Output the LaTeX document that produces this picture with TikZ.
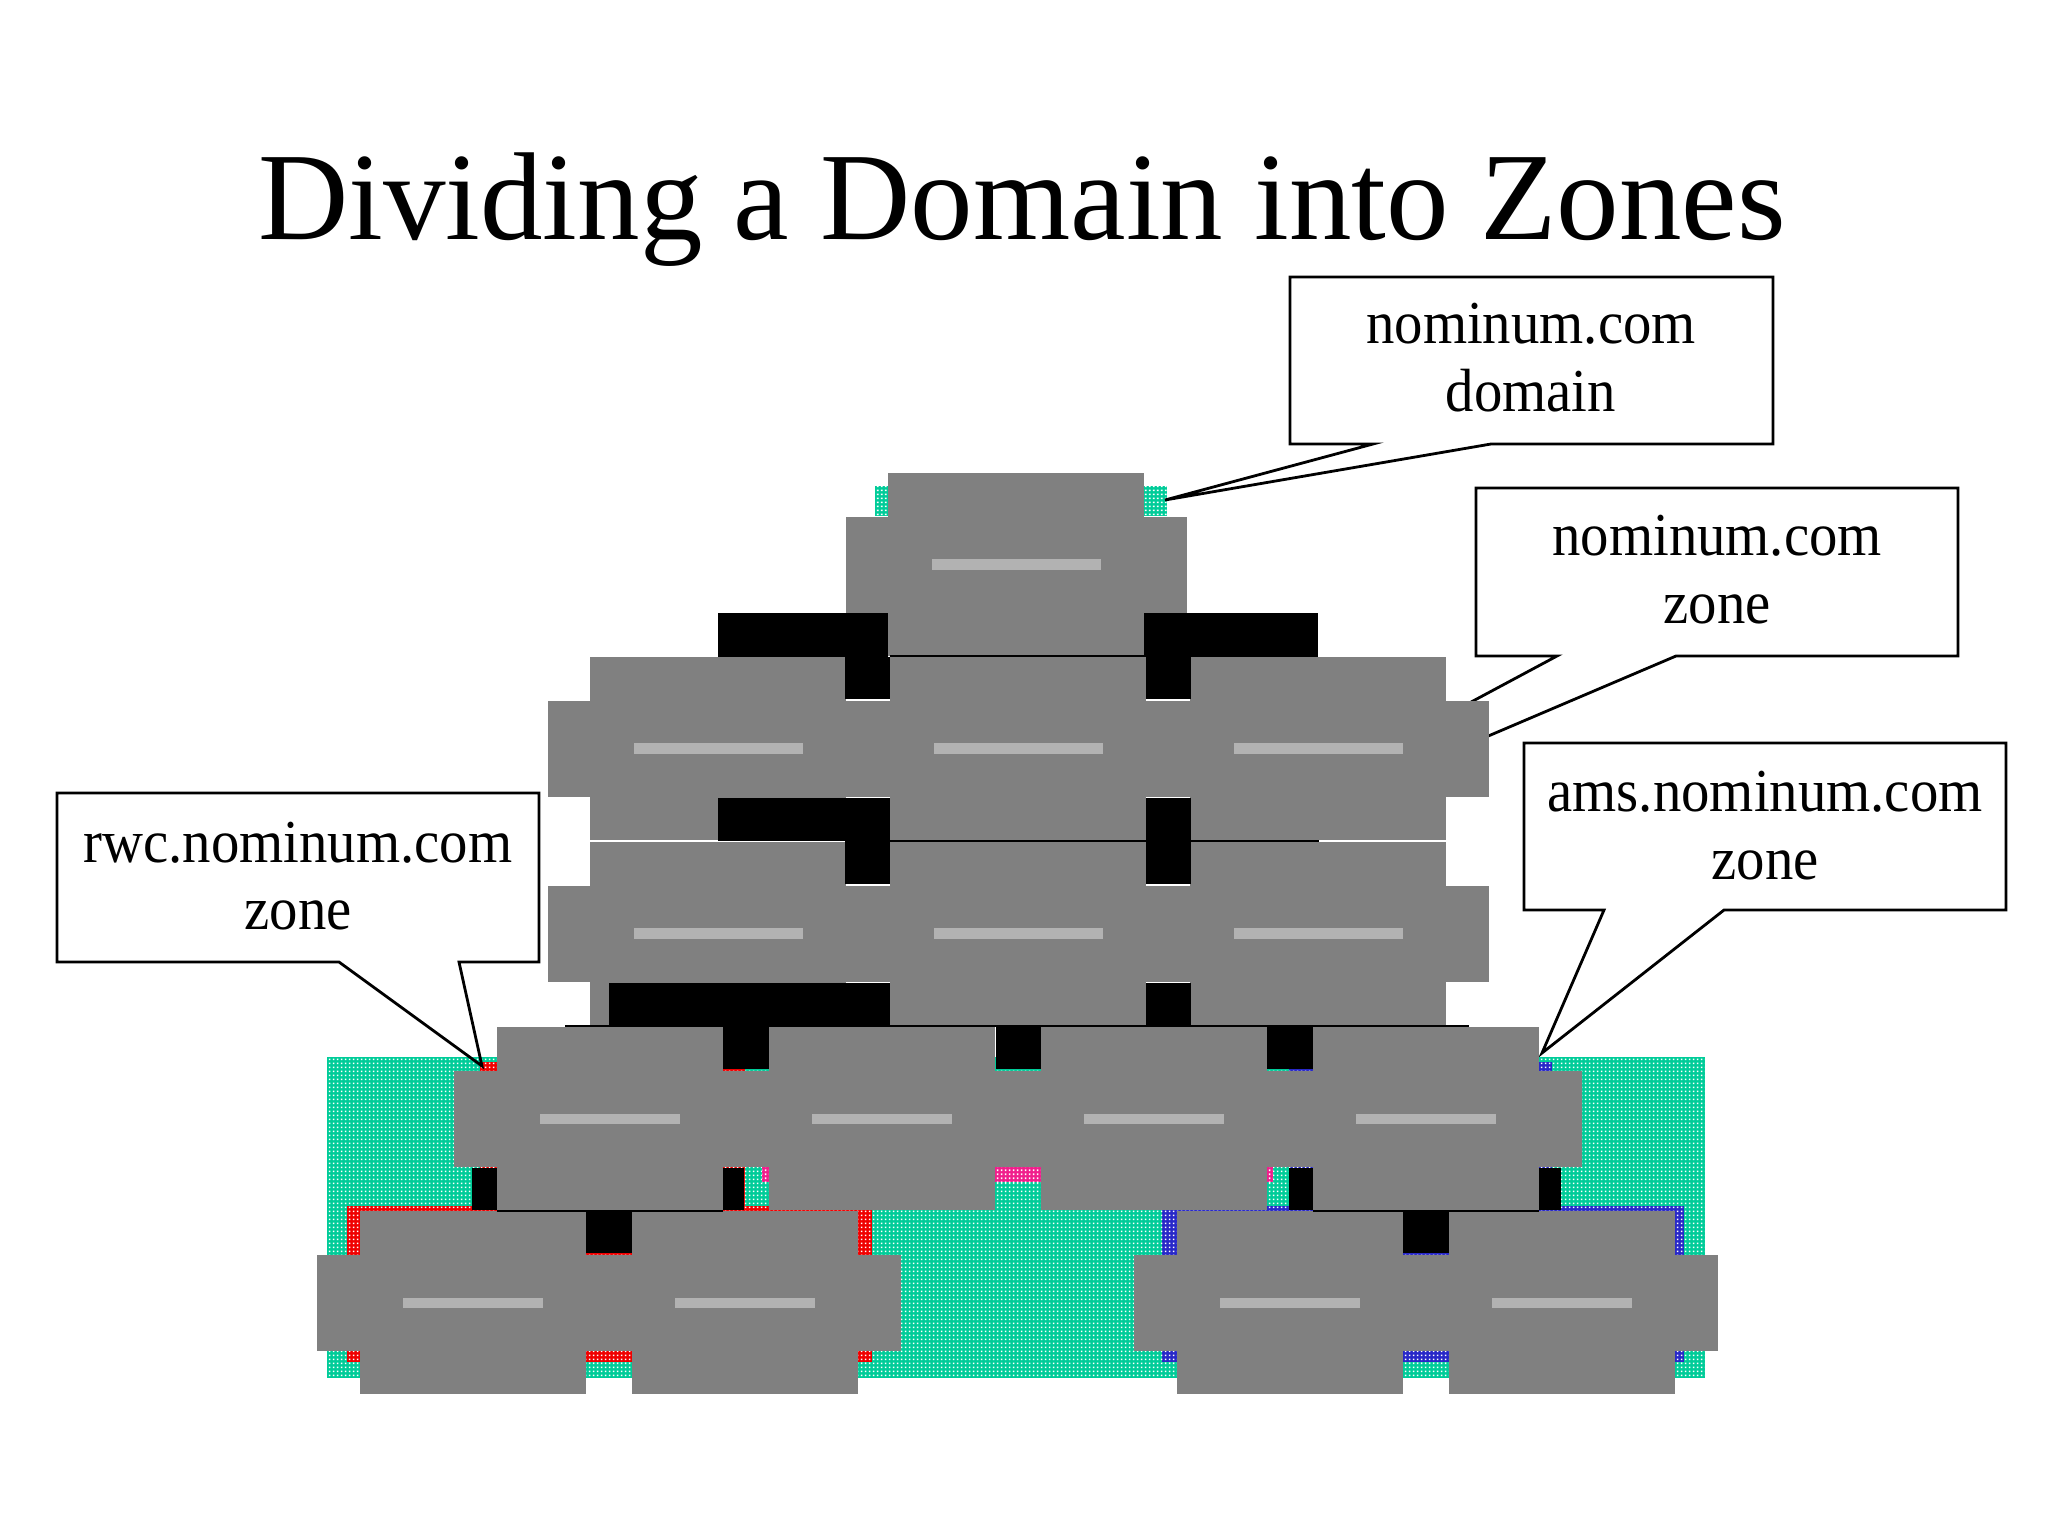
\documentclass[tikz,border=0pt]{standalone}
\usepackage{fontspec}
\setmainfont{Liberation Serif}
\usetikzlibrary{patterns}
\definecolor{grayN}{RGB}{128,128,128}
\definecolor{barC}{RGB}{178,178,178}
\definecolor{greenZ}{RGB}{0,204,153}
\definecolor{redZ}{RGB}{240,0,0}
\definecolor{blueZ}{RGB}{40,40,200}
\definecolor{pinkZ}{RGB}{240,30,140}
\pgfdeclarepatternformonly{fdots}{\pgfqpoint{0pt}{0pt}}{\pgfqpoint{2pt}{2pt}}{\pgfqpoint{2pt}{2pt}}{%
  \pgfpathrectangle{\pgfqpoint{0.5pt}{0.5pt}}{\pgfqpoint{1pt}{1pt}}\pgfusepath{fill}}
\newcommand{\ctxt}[1]{\scalebox{0.93}[1]{#1}}
\tikzset{
  zonefill/.style={fill=#1, postaction={pattern=fdots, pattern color=white}},
  callout/.style={draw=black, line width=1.4pt, line join=miter},
  calltext/.style={anchor=base, inner sep=0, font=\fontsize{30.5pt}{34pt}\selectfont},
  narrowA/.style={fill=grayN, draw=none, inner sep=0, minimum width=128pt, minimum height=91.5pt},
  wideA/.style={fill=grayN, draw=none, inner sep=0, minimum width=170.5pt, minimum height=48pt},
  barA/.style={fill=barC, draw=none, inner sep=0, minimum width=84.5pt, minimum height=5.5pt},
  narrowB/.style={fill=grayN, draw=none, inner sep=0, minimum width=113pt, minimum height=91.5pt},
  wideB/.style={fill=grayN, draw=none, inner sep=0, minimum width=156pt, minimum height=48pt},
  barB/.style={fill=barC, draw=none, inner sep=0, minimum width=70pt, minimum height=5pt},
  edgefill/.style={fill=black},
  thinedge/.style={draw=black, line width=0.8pt},
}
\begin{document}
\begin{tikzpicture}[x=0.5pt,y=-0.5pt]
\fill[white] (0,0) rectangle (2048,1536);
\useasboundingbox (0,0) rectangle (2048,1536);

% title
\node[anchor=base, inner sep=0, font=\fontsize{62.5pt}{75pt}\selectfont] (title) at (1022,239) {Dividing a Domain into Zones};

% zone hatching
\fill[zonefill=greenZ] (327,1057) rectangle (1705,1378);
\fill[zonefill=greenZ] (875,486) rectangle (889,516);
\fill[zonefill=greenZ] (1144,486) rectangle (1167,516);
\fill[zonefill=redZ] (480,1062) rectangle (745,1210);
\fill[zonefill=redZ] (347,1206) rectangle (872,1362);
\fill[zonefill=blueZ] (1289,1062) rectangle (1552,1210);
\fill[zonefill=blueZ] (1162,1206) rectangle (1684,1362);
\fill[zonefill=pinkZ] (762,1166) rectangle (1273,1182);

% callouts
\draw[callout] (1290,277) -- (1773,277) -- (1773,444) -- (1491,444) -- (1165,500) -- (1373,444) -- (1290,444) -- cycle;
\node[calltext] (c1a) at (1531,343) {\ctxt{nominum.com}};
\node[calltext] (c1b) at (1531,411) {\ctxt{domain}};
\draw[callout] (1476,488) -- (1958,488) -- (1958,656) -- (1676,656) -- (1094,904) -- (1557,656) -- (1476,656) -- cycle;
\node[calltext] (c2a) at (1717,555) {\ctxt{nominum.com}};
\node[calltext] (c2b) at (1717,623) {\ctxt{zone}};
\draw[callout] (57,793) -- (539,793) -- (539,962) -- (459,962) -- (482,1066) -- (339,962) -- (57,962) -- cycle;
\node[calltext] (c3a) at (298,862) {\ctxt{rwc.nominum.com}};
\node[calltext] (c3b) at (298,929) {\ctxt{zone}};
\draw[callout] (1524,743) -- (2006,743) -- (2006,910) -- (1724,910) -- (1542,1053) -- (1604,910) -- (1524,910) -- cycle;
\node[calltext] (c4a) at (1765,811) {\ctxt{ams.nominum.com}};
\node[calltext] (c4b) at (1765,879) {\ctxt{zone}};

% tree nodes (cross shapes)
\foreach \n/\cx/\cy in {root/1016/564.5, arpa/718/748.5, com/1018/748.5, edu/1318/748.5,
    cnx/718/933.5, nominum/1018/933.5, netsol/1318/933.5}{
  \node[narrowA] (\n) at (\cx,\cy) {};
  \node[wideA] (\n w) at (\cx,\cy) {};
}
\foreach \n/\cx/\cy in {rwc/610/1118.5, www/882/1118.5, ftp/1154/1118.5, ams/1426/1118.5,
    leafa/473/1302.5, skye/745/1302.5, leafc/1290/1302.5, leafd/1562/1302.5}{
  \node[narrowB] (\n) at (\cx,\cy) {};
  \node[wideB] (\n w) at (\cx,\cy) {};
}

% visible parts of the connecting lines
\fill[edgefill] (718,613) rectangle (888,657);
\fill[edgefill] (845,657) rectangle (890,699);
\fill[edgefill] (1144,613) rectangle (1318,657);
\fill[edgefill] (1146,657) rectangle (1191,699);
\fill[edgefill] (718,798) rectangle (890,841);
\fill[edgefill] (845,841) rectangle (890,884);
\fill[edgefill] (1146,798) rectangle (1191,884);
\fill[edgefill] (609,983) rectangle (890,1026);
\fill[edgefill] (1146,983) rectangle (1191,1026);
\fill[edgefill] (723,1026) rectangle (769,1069);
\fill[edgefill] (996,1026) rectangle (1041,1069);
\fill[edgefill] (1267,1026) rectangle (1313,1069);
\fill[edgefill] (472,1168) rectangle (497,1210);
\fill[edgefill] (723,1168) rectangle (744,1210);
\fill[edgefill] (1289,1168) rectangle (1313,1210);
\fill[edgefill] (1539,1168) rectangle (1561,1210);
\fill[edgefill] (586,1211) rectangle (632,1253);
\fill[edgefill] (1403,1211) rectangle (1449,1253);
\draw[thinedge] (890,656) -- (1146,656);
\draw[thinedge] (890,841) -- (1319,841);
\draw[thinedge] (565,1026) -- (1469,1026);
\draw[thinedge] (497,1211) -- (723,1211);
\draw[thinedge] (1313,1211) -- (1539,1211);

% label bars
\foreach \n in {root, arpa, com, edu, cnx, nominum, netsol}{
  \node[barA] at (\n) {};
}
\foreach \n in {rwc, www, ftp, ams, leafa, skye, leafc, leafd}{
  \node[barB] at (\n) {};
}
\end{tikzpicture}
\end{document}
